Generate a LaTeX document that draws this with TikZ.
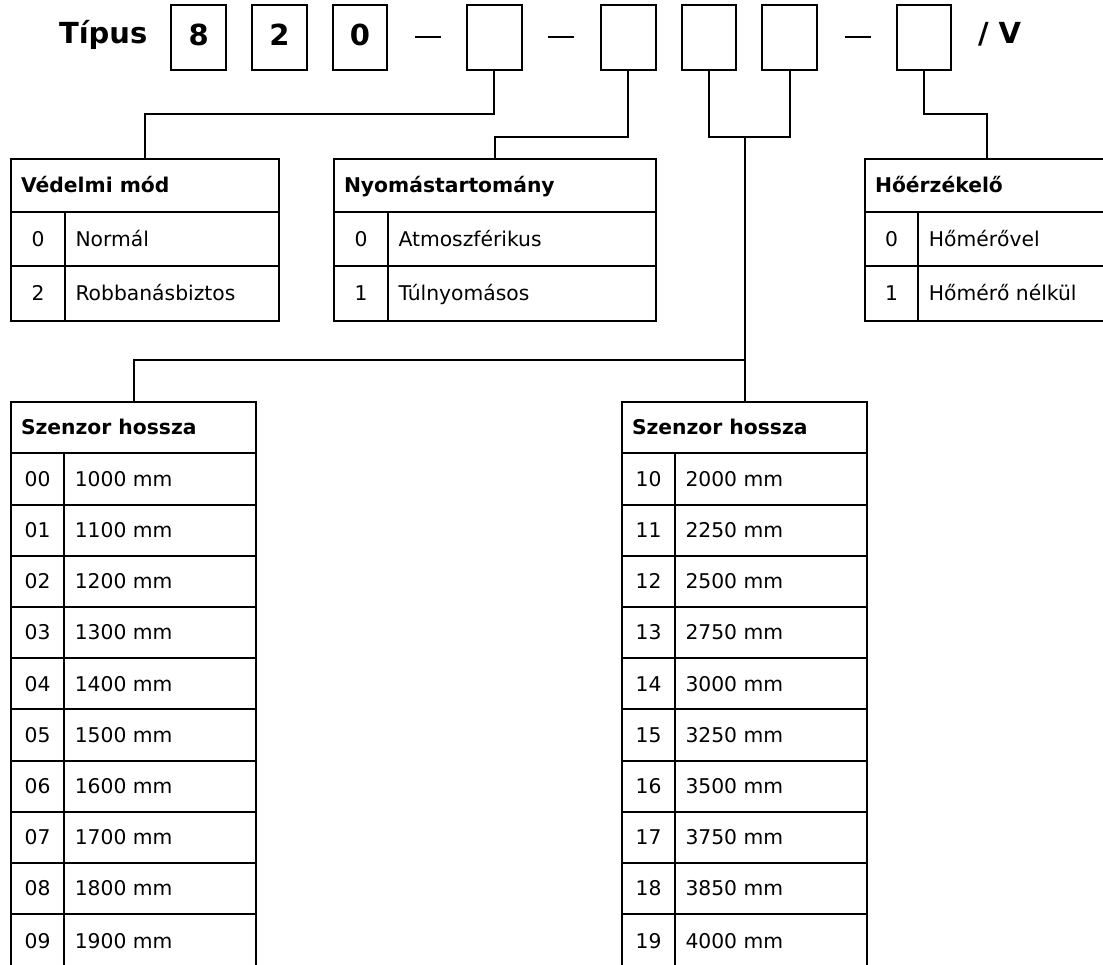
\documentclass[tikz,border=0pt]{standalone}
\usepackage{fontspec}
\setmainfont{DejaVu Sans}
\newcommand\mkrow[8]{%
  \node[cellbox, ctext, minimum width={#3-#2}, minimum height={#6}] (#1n) at (#2,#5) {#7};
  \node[cellbox, minimum width={#4-#3}, minimum height={#6}] (#1t) at (#3,#5) {};
  \node[ctext, anchor=west] (#1x) at ([xshift=10.5pt]#1t.west) {#8};
}
\begin{document}
\begin{tikzpicture}[x=1pt,y=-1pt,
  every node/.style={inner sep=0pt, outer sep=0pt},
  tb/.style={draw, line width=2pt, minimum width=54.5pt, minimum height=65pt},
  big/.style={font=\fontsize{29}{33}\selectfont\bfseries, anchor=base},
  cellbox/.style={draw, line width=2pt, anchor=north west},
  ctext/.style={font=\fontsize{20.3}{24}\selectfont, text height=14.8pt, text depth=0pt},
  htext/.style={font=\fontsize{20.3}{24}\selectfont\bfseries, text height=14.8pt, text depth=0pt, anchor=west},
  conn/.style={line width=2pt},
  dashln/.style={line width=1.7pt}]
\useasboundingbox (0,0) rectangle (1103,964);

% title row
\node[big, anchor=base west] (tip) at (59,43) {Típus};
\node[tb] (b8) at (198.7,37.5) {};
\node[big] (d8) at (198.7,45) {8};
\node[tb] (b2) at (279.4,37.5) {};
\node[big] (d2) at (279.4,45) {2};
\node[tb] (b0) at (360,37.5) {};
\node[big] (d0) at (360,45) {0};
\draw[dashln] (415,37) -- (441,37);
\node[tb] (bA) at (494.3,37.5) {};
\draw[dashln] (548,37) -- (574,37);
\node[tb] (bB) at (628.3,37.5) {};
\node[tb] (bC) at (709.1,37.5) {};
\node[tb] (bD) at (789.7,37.5) {};
\draw[dashln] (845,37) -- (871,37);
\node[tb] (bE) at (923.8,37.5) {};
\node[big, anchor=base west] (sv) at (978,43) {/ V};

% table 1
\node[cellbox, minimum width=268, minimum height=53] (t1h) at (11,159) {};
\node[htext] (t1l) at ([xshift=10pt]t1h.west) {Védelmi mód};
\mkrow{t1a}{11}{65}{279}{212}{54.3}{0}{Normál}
\mkrow{t1b}{11}{65}{279}{266.3}{54.3}{2}{Robbanásbiztos}

% table 2
\node[cellbox, minimum width=322, minimum height=53] (t2h) at (334,159) {};
\node[htext] (t2l) at ([xshift=10pt]t2h.west) {Nyomástartomány};
\mkrow{t2a}{334}{388}{656}{212}{54.3}{0}{Atmoszférikus}
\mkrow{t2b}{334}{388}{656}{266.3}{54.3}{1}{Túlnyomásos}

% table 5
\node[cellbox, minimum width=244, minimum height=53] (t5h) at (865,159) {};
\node[htext] (t5l) at ([xshift=10pt]t5h.west) {Hőérzékelő};
\mkrow{t5a}{865}{918.3}{1109}{212}{54.3}{0}{Hőmérővel}
\mkrow{t5b}{865}{918.3}{1109}{266.3}{54.3}{1}{Hőmérő nélkül}

% table 3
\node[cellbox, minimum width=245, minimum height=51.6] (t3h) at (11,401.7) {};
\node[htext] (t3l) at ([xshift=10pt]t3h.west) {Szenzor hossza};
\foreach \ii/\nn/\vv in {0/00/1000,1/01/1100,2/02/1200,3/03/1300,4/04/1400,5/05/1500,6/06/1600,7/07/1700,8/08/1800,9/09/1900}{
  \pgfmathsetmacro\tp{453.3+\ii*51.2}
  \pgfmathsetmacro\hh{\ii==9 ? 53 : 51.2}
  \mkrow{ra\ii}{11}{64.3}{256}{\tp}{\hh}{\nn}{\vv\ mm}
}

% table 4
\node[cellbox, minimum width=245, minimum height=51.6] (t4h) at (622,401.7) {};
\node[htext] (t4l) at ([xshift=10pt]t4h.west) {Szenzor hossza};
\foreach \ii/\nn/\vv in {0/10/2000,1/11/2250,2/12/2500,3/13/2750,4/14/3000,5/15/3250,6/16/3500,7/17/3750,8/18/3850,9/19/4000}{
  \pgfmathsetmacro\tp{453.3+\ii*51.2}
  \pgfmathsetmacro\hh{\ii==9 ? 53 : 51.2}
  \mkrow{rb\ii}{622}{675}{867}{\tp}{\hh}{\nn}{\vv\ mm}
}

% connectors
\draw[conn] (bA.south) -- (bA.south |- 0,114) -| (t1h.north);
\draw[conn] (bB.south) -- (bB.south |- 0,136.7) -| (t2h.north);
\draw[conn] (bC.south) -- (bC.south |- 0,136.7) -- (bD.south |- 0,136.7) -- (bD.south);
\coordinate (jcd) at (t4h.north |- 0,136.7);
\draw[conn] (jcd) -- (t4h.north);
\coordinate (j34) at (t4h.north |- 0,360);
\draw[conn] (j34) -| (t3h.north);
\draw[conn] (bE.south) -- (bE.south |- 0,114) -| (t5h.north);
\end{tikzpicture}
\end{document}
